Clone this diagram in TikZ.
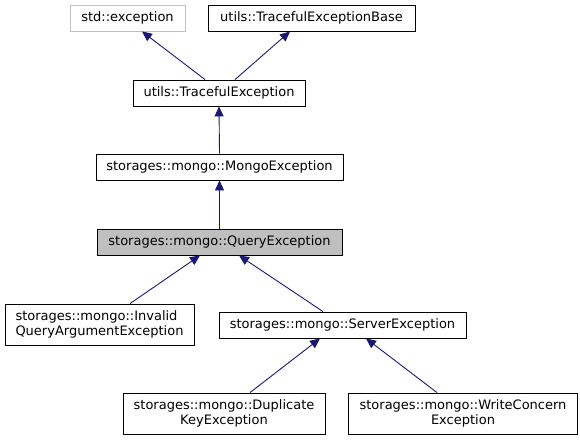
\documentclass[tikz,border=0pt]{standalone}
\usepackage{fontspec}
\setmainfont{DejaVu Sans}
\usetikzlibrary{arrows.meta}
\definecolor{edgeblue}{HTML}{191970}
\definecolor{basegray}{HTML}{BFBFBF}

\begin{document}
\begin{tikzpicture}[x=1pt, y=-1pt,
    classbox/.style={draw, line width=0.9pt, fill=white, inner sep=0pt,
        minimum height=26pt, font=\fontsize{13}{15}\selectfont, align=center},
    twoline/.style={classbox, minimum height=41pt},
    inherit/.style={draw=edgeblue, line width=0.9pt,
        -{Triangle[length=10pt, width=9pt, fill=edgeblue]}}]
\useasboundingbox (0,0) rectangle (580,440);

\node[classbox, draw=basegray, minimum width=115pt] (stdex) at (127.5,18) {std::exception};
\node[classbox, minimum width=207pt] (tracebase) at (311.5,18) {utils::TracefulExceptionBase};
\node[classbox, minimum width=172pt] (traceful) at (219,93) {utils::TracefulException};
\node[classbox, minimum width=247pt] (mongoex) at (219.5,167) {storages::mongo::MongoException};
\node[classbox, fill=basegray, minimum width=245pt] (queryex) at (219.5,242) {storages::mongo::QueryException};
\node[twoline, align=left, minimum width=189pt] (invalidex) at (99.5,324.5)
    {storages::mongo::Invalid\\QueryArgumentException};
\node[classbox, minimum width=247pt] (serverex) at (342.5,325) {storages::mongo::ServerException};
\node[twoline, minimum width=202pt] (dupkeyex) at (224,413.5)
    {storages::mongo::Duplicate\\KeyException};
\node[twoline, minimum width=229pt] (writeex) at (463,413.5)
    {storages::mongo::WriteConcern\\Exception};

\draw[inherit] ([xshift=-14pt]traceful.north) -- ([xshift=14.5pt]stdex.south);
\draw[inherit] ([xshift=16pt]traceful.north) -- ([xshift=-21.5pt]tracebase.south);
\draw[inherit] (mongoex.north) -- (traceful.south);
\draw[inherit] (queryex.north) -- (mongoex.south);
\draw[inherit] ([xshift=30.5pt]invalidex.north) -- ([xshift=-19.5pt]queryex.south);
\draw[inherit] ([xshift=-19.5pt]serverex.north) -- ([xshift=19.5pt]queryex.south);
\draw[inherit] ([xshift=26pt]dupkeyex.north) -- ([xshift=-22.5pt]serverex.south);
\draw[inherit] ([xshift=-26pt]writeex.north) -- ([xshift=23.5pt]serverex.south);
\end{tikzpicture}
\end{document}
